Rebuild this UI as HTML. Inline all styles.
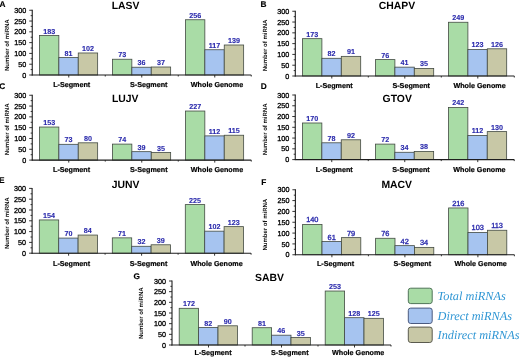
<!DOCTYPE html>
<html><head><meta charset="utf-8"><style>
html,body{margin:0;padding:0;background:#fff;}
body{width:520px;height:359px;overflow:hidden;}
svg{display:block;will-change:transform;filter:blur(0.25px);}
text{font-family:"Liberation Sans",sans-serif;text-rendering:geometricPrecision;}
.v{font-size:7.2px;font-weight:bold;fill:#2a2aac;stroke:#2a2aac;stroke-width:0.1px;text-anchor:middle;}
.vr{font-weight:normal;font-size:7.4px;stroke-width:0.35px;}
.yt{font-size:7.2px;fill:#000;stroke:#000;stroke-width:0.3px;text-anchor:end;}
.xl{font-size:7.2px;font-weight:bold;fill:#000;stroke:#000;stroke-width:0.2px;text-anchor:middle;}
.yl{font-size:6px;font-weight:bold;fill:#111;text-anchor:middle;}
.tt{font-size:10.4px;font-weight:bold;fill:#000;text-anchor:middle;}
.pl{font-size:8.3px;font-weight:bold;fill:#000;stroke:#000;stroke-width:0.15px;}
.lg{font-family:"Liberation Serif",serif;font-style:italic;font-size:12.3px;fill:#2f96d4;}
.ax{stroke:#1e1e1e;stroke-width:1.1;}
.tk{stroke:#1e1e1e;stroke-width:0.9;}
</style></head><body>
<svg width="520" height="359" viewBox="0 0 520 359">
<rect width="520" height="359" fill="#fff"/>
<rect x="39.45" y="35.5" width="19.4" height="39.5" fill="#a9dca6" stroke="#424a42" stroke-width="0.8"/>
<text x="49.15" y="33.5" class="v">183</text>
<rect x="58.85" y="57.52" width="19.4" height="17.48" fill="#a6c4f0" stroke="#424a42" stroke-width="0.8"/>
<text x="68.55" y="55.52" class="v">81</text>
<rect x="78.25" y="52.98" width="19.4" height="22.02" fill="#c8c8a6" stroke="#424a42" stroke-width="0.8"/>
<text x="87.95" y="50.98" class="v">102</text>
<rect x="112.45" y="59.24" width="19.4" height="15.76" fill="#a9dca6" stroke="#424a42" stroke-width="0.8"/>
<text x="122.15" y="57.24" class="v">73</text>
<rect x="131.85" y="67.23" width="19.4" height="7.77" fill="#a6c4f0" stroke="#424a42" stroke-width="0.8"/>
<text x="141.55" y="65.23" class="v">36</text>
<rect x="151.25" y="67.01" width="19.4" height="7.99" fill="#c8c8a6" stroke="#424a42" stroke-width="0.8"/>
<text x="160.95" y="65.01" class="v">37</text>
<rect x="185.45" y="19.75" width="19.4" height="55.25" fill="#a9dca6" stroke="#424a42" stroke-width="0.8"/>
<text x="195.15" y="17.75" class="v">256</text>
<rect x="204.85" y="49.75" width="19.4" height="25.25" fill="#a6c4f0" stroke="#424a42" stroke-width="0.8"/>
<text x="214.55" y="47.75" class="v">117</text>
<rect x="224.25" y="45" width="19.4" height="30" fill="#c8c8a6" stroke="#424a42" stroke-width="0.8"/>
<text x="233.95" y="43" class="v">139</text>
<line x1="32.25" y1="9.85" x2="32.25" y2="75.5" class="ax"/>
<line x1="31.75" y1="75" x2="251.25" y2="75" class="ax"/>
<line x1="29.25" y1="75" x2="32.25" y2="75" class="tk"/>
<text x="26.25" y="77.6" class="yt">0</text>
<line x1="30.65" y1="69.6" x2="32.25" y2="69.6" class="tk"/>
<line x1="29.25" y1="64.21" x2="32.25" y2="64.21" class="tk"/>
<text x="26.25" y="66.81" class="yt">50</text>
<line x1="30.65" y1="58.81" x2="32.25" y2="58.81" class="tk"/>
<line x1="29.25" y1="53.42" x2="32.25" y2="53.42" class="tk"/>
<text x="26.25" y="56.02" class="yt">100</text>
<line x1="30.65" y1="48.02" x2="32.25" y2="48.02" class="tk"/>
<line x1="29.25" y1="42.62" x2="32.25" y2="42.62" class="tk"/>
<text x="26.25" y="45.23" class="yt">150</text>
<line x1="30.65" y1="37.23" x2="32.25" y2="37.23" class="tk"/>
<line x1="29.25" y1="31.83" x2="32.25" y2="31.83" class="tk"/>
<text x="26.25" y="34.43" class="yt">200</text>
<line x1="30.65" y1="26.44" x2="32.25" y2="26.44" class="tk"/>
<line x1="29.25" y1="21.04" x2="32.25" y2="21.04" class="tk"/>
<text x="26.25" y="23.64" class="yt">250</text>
<line x1="30.65" y1="15.65" x2="32.25" y2="15.65" class="tk"/>
<line x1="29.25" y1="10.25" x2="32.25" y2="10.25" class="tk"/>
<text x="26.25" y="12.85" class="yt">300</text>
<line x1="68.75" y1="75" x2="68.75" y2="77.5" class="tk"/>
<line x1="105.25" y1="75" x2="105.25" y2="76.5" class="tk"/>
<line x1="141.75" y1="75" x2="141.75" y2="77.5" class="tk"/>
<line x1="178.25" y1="75" x2="178.25" y2="76.5" class="tk"/>
<line x1="214.75" y1="75" x2="214.75" y2="77.5" class="tk"/>
<line x1="251.25" y1="75" x2="251.25" y2="76.5" class="tk"/>
<text x="71.7" y="87" class="xl">L-Segment</text>
<text x="148.75" y="87" class="xl">S-Segment</text>
<text x="217" y="87" class="xl">Whole Genome</text>
<text transform="translate(8.9 45.15) rotate(-90)" class="yl">Number of miRNA</text>
<text x="125.5" y="8.9" class="tt">LASV</text>
<text x="-0.4" y="6.6" class="pl">A</text>
<rect x="302.5" y="38.66" width="19.4" height="37.34" fill="#a9dca6" stroke="#424a42" stroke-width="0.8"/>
<text x="312.2" y="36.66" class="v">173</text>
<rect x="321.9" y="58.3" width="19.4" height="17.7" fill="#a6c4f0" stroke="#424a42" stroke-width="0.8"/>
<text x="331.6" y="56.3" class="v">82</text>
<rect x="341.3" y="56.36" width="19.4" height="19.64" fill="#c8c8a6" stroke="#424a42" stroke-width="0.8"/>
<text x="351" y="54.36" class="v">91</text>
<rect x="375.5" y="59.6" width="19.4" height="16.4" fill="#a9dca6" stroke="#424a42" stroke-width="0.8"/>
<text x="385.2" y="57.6" class="v">76</text>
<rect x="394.9" y="67.15" width="19.4" height="8.85" fill="#a6c4f0" stroke="#424a42" stroke-width="0.8"/>
<text x="404.6" y="65.15" class="v">41</text>
<rect x="414.3" y="68.45" width="19.4" height="7.55" fill="#c8c8a6" stroke="#424a42" stroke-width="0.8"/>
<text x="424" y="66.45" class="v">35</text>
<rect x="448.5" y="22.26" width="19.4" height="53.74" fill="#a9dca6" stroke="#424a42" stroke-width="0.8"/>
<text x="458.2" y="20.26" class="v">249</text>
<rect x="467.9" y="49.45" width="19.4" height="26.55" fill="#a6c4f0" stroke="#424a42" stroke-width="0.8"/>
<text x="477.6" y="47.45" class="v">123</text>
<rect x="487.3" y="48.8" width="19.4" height="27.2" fill="#c8c8a6" stroke="#424a42" stroke-width="0.8"/>
<text x="497" y="46.8" class="v">126</text>
<line x1="295.3" y1="10.85" x2="295.3" y2="76.5" class="ax"/>
<line x1="294.8" y1="76" x2="514.3" y2="76" class="ax"/>
<line x1="292.3" y1="76" x2="295.3" y2="76" class="tk"/>
<text x="289.3" y="78.6" class="yt">0</text>
<line x1="293.7" y1="70.6" x2="295.3" y2="70.6" class="tk"/>
<line x1="292.3" y1="65.21" x2="295.3" y2="65.21" class="tk"/>
<text x="289.3" y="67.81" class="yt">50</text>
<line x1="293.7" y1="59.81" x2="295.3" y2="59.81" class="tk"/>
<line x1="292.3" y1="54.42" x2="295.3" y2="54.42" class="tk"/>
<text x="289.3" y="57.02" class="yt">100</text>
<line x1="293.7" y1="49.02" x2="295.3" y2="49.02" class="tk"/>
<line x1="292.3" y1="43.62" x2="295.3" y2="43.62" class="tk"/>
<text x="289.3" y="46.23" class="yt">150</text>
<line x1="293.7" y1="38.23" x2="295.3" y2="38.23" class="tk"/>
<line x1="292.3" y1="32.83" x2="295.3" y2="32.83" class="tk"/>
<text x="289.3" y="35.43" class="yt">200</text>
<line x1="293.7" y1="27.44" x2="295.3" y2="27.44" class="tk"/>
<line x1="292.3" y1="22.04" x2="295.3" y2="22.04" class="tk"/>
<text x="289.3" y="24.64" class="yt">250</text>
<line x1="293.7" y1="16.65" x2="295.3" y2="16.65" class="tk"/>
<line x1="292.3" y1="11.25" x2="295.3" y2="11.25" class="tk"/>
<text x="289.3" y="13.85" class="yt">300</text>
<line x1="331.8" y1="76" x2="331.8" y2="78.5" class="tk"/>
<line x1="368.3" y1="76" x2="368.3" y2="77.5" class="tk"/>
<line x1="404.8" y1="76" x2="404.8" y2="78.5" class="tk"/>
<line x1="441.3" y1="76" x2="441.3" y2="77.5" class="tk"/>
<line x1="477.8" y1="76" x2="477.8" y2="78.5" class="tk"/>
<line x1="514.3" y1="76" x2="514.3" y2="77.5" class="tk"/>
<text x="334.2" y="88" class="xl">L-Segment</text>
<text x="411.2" y="88" class="xl">S-Segment</text>
<text x="479.6" y="88" class="xl">Whole Genome</text>
<text transform="translate(266.9 45.45) rotate(-90)" class="yl">Number of miRNA</text>
<text x="397" y="8.9" class="tt">CHAPV</text>
<text x="260.4" y="6.7" class="pl">B</text>
<rect x="39.45" y="127.03" width="19.4" height="33.07" fill="#a9dca6" stroke="#424a42" stroke-width="0.8"/>
<text x="49.15" y="125.03" class="v">153</text>
<rect x="58.85" y="144.32" width="19.4" height="15.78" fill="#a6c4f0" stroke="#424a42" stroke-width="0.8"/>
<text x="68.55" y="142.32" class="v">73</text>
<rect x="78.25" y="142.81" width="19.4" height="17.29" fill="#c8c8a6" stroke="#424a42" stroke-width="0.8"/>
<text x="87.95" y="140.81" class="v">80</text>
<rect x="112.45" y="144.1" width="19.4" height="16" fill="#a9dca6" stroke="#424a42" stroke-width="0.8"/>
<text x="122.15" y="142.1" class="v">74</text>
<rect x="131.85" y="151.67" width="19.4" height="8.43" fill="#a6c4f0" stroke="#424a42" stroke-width="0.8"/>
<text x="141.55" y="149.67" class="v">39</text>
<rect x="151.25" y="152.53" width="19.4" height="7.57" fill="#c8c8a6" stroke="#424a42" stroke-width="0.8"/>
<text x="160.95" y="150.53" class="v">35</text>
<rect x="185.45" y="111.03" width="19.4" height="49.07" fill="#a9dca6" stroke="#424a42" stroke-width="0.8"/>
<text x="195.15" y="109.03" class="v">227</text>
<rect x="204.85" y="135.89" width="19.4" height="24.21" fill="#a6c4f0" stroke="#424a42" stroke-width="0.8"/>
<text x="214.55" y="133.89" class="v">112</text>
<rect x="224.25" y="135.24" width="19.4" height="24.86" fill="#c8c8a6" stroke="#424a42" stroke-width="0.8"/>
<text x="233.95" y="133.24" class="v">115</text>
<line x1="32.25" y1="94.85" x2="32.25" y2="160.6" class="ax"/>
<line x1="31.75" y1="160.1" x2="251.25" y2="160.1" class="ax"/>
<line x1="29.25" y1="160.1" x2="32.25" y2="160.1" class="tk"/>
<text x="26.25" y="162.7" class="yt">0</text>
<line x1="30.65" y1="154.7" x2="32.25" y2="154.7" class="tk"/>
<line x1="29.25" y1="149.29" x2="32.25" y2="149.29" class="tk"/>
<text x="26.25" y="151.89" class="yt">50</text>
<line x1="30.65" y1="143.89" x2="32.25" y2="143.89" class="tk"/>
<line x1="29.25" y1="138.48" x2="32.25" y2="138.48" class="tk"/>
<text x="26.25" y="141.08" class="yt">100</text>
<line x1="30.65" y1="133.08" x2="32.25" y2="133.08" class="tk"/>
<line x1="29.25" y1="127.67" x2="32.25" y2="127.67" class="tk"/>
<text x="26.25" y="130.28" class="yt">150</text>
<line x1="30.65" y1="122.27" x2="32.25" y2="122.27" class="tk"/>
<line x1="29.25" y1="116.87" x2="32.25" y2="116.87" class="tk"/>
<text x="26.25" y="119.47" class="yt">200</text>
<line x1="30.65" y1="111.46" x2="32.25" y2="111.46" class="tk"/>
<line x1="29.25" y1="106.06" x2="32.25" y2="106.06" class="tk"/>
<text x="26.25" y="108.66" class="yt">250</text>
<line x1="30.65" y1="100.65" x2="32.25" y2="100.65" class="tk"/>
<line x1="29.25" y1="95.25" x2="32.25" y2="95.25" class="tk"/>
<text x="26.25" y="97.85" class="yt">300</text>
<line x1="68.75" y1="160.1" x2="68.75" y2="162.6" class="tk"/>
<line x1="105.25" y1="160.1" x2="105.25" y2="161.6" class="tk"/>
<line x1="141.75" y1="160.1" x2="141.75" y2="162.6" class="tk"/>
<line x1="178.25" y1="160.1" x2="178.25" y2="161.6" class="tk"/>
<line x1="214.75" y1="160.1" x2="214.75" y2="162.6" class="tk"/>
<line x1="251.25" y1="160.1" x2="251.25" y2="161.6" class="tk"/>
<text x="71.6" y="172.2" class="xl">L-Segment</text>
<text x="148.8" y="172.2" class="xl">S-Segment</text>
<text x="217" y="172.2" class="xl">Whole Genome</text>
<text transform="translate(8.9 129.35) rotate(-90)" class="yl">Number of miRNA</text>
<text x="125.25" y="101.5" class="tt">LUJV</text>
<text x="-0.7" y="89" class="pl">C</text>
<rect x="302.45" y="122.99" width="19.4" height="36.61" fill="#a9dca6" stroke="#424a42" stroke-width="0.8"/>
<text x="312.15" y="120.99" class="v">170</text>
<rect x="321.85" y="142.8" width="19.4" height="16.8" fill="#a6c4f0" stroke="#424a42" stroke-width="0.8"/>
<text x="331.55" y="140.8" class="v">78</text>
<rect x="341.25" y="139.79" width="19.4" height="19.81" fill="#c8c8a6" stroke="#424a42" stroke-width="0.8"/>
<text x="350.95" y="137.79" class="v">92</text>
<rect x="375.45" y="144.1" width="19.4" height="15.5" fill="#a9dca6" stroke="#424a42" stroke-width="0.8"/>
<text x="385.15" y="142.1" class="v">72</text>
<rect x="394.85" y="152.28" width="19.4" height="7.32" fill="#a6c4f0" stroke="#424a42" stroke-width="0.8"/>
<text x="404.55" y="150.28" class="v">34</text>
<rect x="414.25" y="151.42" width="19.4" height="8.18" fill="#c8c8a6" stroke="#424a42" stroke-width="0.8"/>
<text x="423.95" y="149.42" class="v">38</text>
<rect x="448.45" y="107.49" width="19.4" height="52.11" fill="#a9dca6" stroke="#424a42" stroke-width="0.8"/>
<text x="458.15" y="105.49" class="v">242</text>
<rect x="467.85" y="135.48" width="19.4" height="24.12" fill="#a6c4f0" stroke="#424a42" stroke-width="0.8"/>
<text x="477.55" y="133.48" class="v">112</text>
<rect x="487.25" y="131.61" width="19.4" height="27.99" fill="#c8c8a6" stroke="#424a42" stroke-width="0.8"/>
<text x="496.95" y="129.61" class="v">130</text>
<line x1="295.25" y1="94.6" x2="295.25" y2="160.1" class="ax"/>
<line x1="294.75" y1="159.6" x2="514.25" y2="159.6" class="ax"/>
<line x1="292.25" y1="159.6" x2="295.25" y2="159.6" class="tk"/>
<text x="289.25" y="162.2" class="yt">0</text>
<line x1="293.65" y1="154.22" x2="295.25" y2="154.22" class="tk"/>
<line x1="292.25" y1="148.83" x2="295.25" y2="148.83" class="tk"/>
<text x="289.25" y="151.43" class="yt">50</text>
<line x1="293.65" y1="143.45" x2="295.25" y2="143.45" class="tk"/>
<line x1="292.25" y1="138.07" x2="295.25" y2="138.07" class="tk"/>
<text x="289.25" y="140.67" class="yt">100</text>
<line x1="293.65" y1="132.68" x2="295.25" y2="132.68" class="tk"/>
<line x1="292.25" y1="127.3" x2="295.25" y2="127.3" class="tk"/>
<text x="289.25" y="129.9" class="yt">150</text>
<line x1="293.65" y1="121.92" x2="295.25" y2="121.92" class="tk"/>
<line x1="292.25" y1="116.53" x2="295.25" y2="116.53" class="tk"/>
<text x="289.25" y="119.13" class="yt">200</text>
<line x1="293.65" y1="111.15" x2="295.25" y2="111.15" class="tk"/>
<line x1="292.25" y1="105.77" x2="295.25" y2="105.77" class="tk"/>
<text x="289.25" y="108.37" class="yt">250</text>
<line x1="293.65" y1="100.38" x2="295.25" y2="100.38" class="tk"/>
<line x1="292.25" y1="95" x2="295.25" y2="95" class="tk"/>
<text x="289.25" y="97.6" class="yt">300</text>
<line x1="331.75" y1="159.6" x2="331.75" y2="162.1" class="tk"/>
<line x1="368.25" y1="159.6" x2="368.25" y2="161.1" class="tk"/>
<line x1="404.75" y1="159.6" x2="404.75" y2="162.1" class="tk"/>
<line x1="441.25" y1="159.6" x2="441.25" y2="161.1" class="tk"/>
<line x1="477.75" y1="159.6" x2="477.75" y2="162.1" class="tk"/>
<line x1="514.25" y1="159.6" x2="514.25" y2="161.1" class="tk"/>
<text x="334.2" y="171.5" class="xl">L-Segment</text>
<text x="411" y="171.5" class="xl">S-Segment</text>
<text x="479.4" y="171.5" class="xl">Whole Genome</text>
<text transform="translate(266.9 129.35) rotate(-90)" class="yl">Number of miRNA</text>
<text x="397.25" y="101.5" class="tt">GTOV</text>
<text x="260.65" y="89.3" class="pl">D</text>
<rect x="39.3" y="219.94" width="19.4" height="33.26" fill="#a9dca6" stroke="#424a42" stroke-width="0.8"/>
<text x="49" y="217.94" class="v">154</text>
<rect x="58.7" y="238.08" width="19.4" height="15.12" fill="#a6c4f0" stroke="#424a42" stroke-width="0.8"/>
<text x="68.4" y="236.08" class="v">70</text>
<rect x="78.1" y="235.06" width="19.4" height="18.14" fill="#c8c8a6" stroke="#424a42" stroke-width="0.8"/>
<text x="87.8" y="233.06" class="v">84</text>
<rect x="112.3" y="237.86" width="19.4" height="15.34" fill="#a9dca6" stroke="#424a42" stroke-width="0.8"/>
<text x="122" y="235.86" class="v">71</text>
<rect x="131.7" y="246.29" width="19.4" height="6.91" fill="#a6c4f0" stroke="#424a42" stroke-width="0.8"/>
<text x="141.4" y="244.29" class="v">32</text>
<rect x="151.1" y="244.78" width="19.4" height="8.42" fill="#c8c8a6" stroke="#424a42" stroke-width="0.8"/>
<text x="160.8" y="242.78" class="v">39</text>
<rect x="185.3" y="204.6" width="19.4" height="48.6" fill="#a9dca6" stroke="#424a42" stroke-width="0.8"/>
<text x="195" y="202.6" class="v">225</text>
<rect x="204.7" y="231.17" width="19.4" height="22.03" fill="#a6c4f0" stroke="#424a42" stroke-width="0.8"/>
<text x="214.4" y="229.17" class="v">102</text>
<rect x="224.1" y="226.63" width="19.4" height="26.57" fill="#c8c8a6" stroke="#424a42" stroke-width="0.8"/>
<text x="233.8" y="224.63" class="v">123</text>
<line x1="32.1" y1="188" x2="32.1" y2="253.7" class="ax"/>
<line x1="31.6" y1="253.2" x2="251.1" y2="253.2" class="ax"/>
<line x1="29.1" y1="253.2" x2="32.1" y2="253.2" class="tk"/>
<text x="26.1" y="255.8" class="yt">0</text>
<line x1="30.5" y1="247.8" x2="32.1" y2="247.8" class="tk"/>
<line x1="29.1" y1="242.4" x2="32.1" y2="242.4" class="tk"/>
<text x="26.1" y="245" class="yt">50</text>
<line x1="30.5" y1="237" x2="32.1" y2="237" class="tk"/>
<line x1="29.1" y1="231.6" x2="32.1" y2="231.6" class="tk"/>
<text x="26.1" y="234.2" class="yt">100</text>
<line x1="30.5" y1="226.2" x2="32.1" y2="226.2" class="tk"/>
<line x1="29.1" y1="220.8" x2="32.1" y2="220.8" class="tk"/>
<text x="26.1" y="223.4" class="yt">150</text>
<line x1="30.5" y1="215.4" x2="32.1" y2="215.4" class="tk"/>
<line x1="29.1" y1="210" x2="32.1" y2="210" class="tk"/>
<text x="26.1" y="212.6" class="yt">200</text>
<line x1="30.5" y1="204.6" x2="32.1" y2="204.6" class="tk"/>
<line x1="29.1" y1="199.2" x2="32.1" y2="199.2" class="tk"/>
<text x="26.1" y="201.8" class="yt">250</text>
<line x1="30.5" y1="193.8" x2="32.1" y2="193.8" class="tk"/>
<line x1="29.1" y1="188.4" x2="32.1" y2="188.4" class="tk"/>
<text x="26.1" y="191" class="yt">300</text>
<line x1="68.6" y1="253.2" x2="68.6" y2="255.7" class="tk"/>
<line x1="105.1" y1="253.2" x2="105.1" y2="254.7" class="tk"/>
<line x1="141.6" y1="253.2" x2="141.6" y2="255.7" class="tk"/>
<line x1="178.1" y1="253.2" x2="178.1" y2="254.7" class="tk"/>
<line x1="214.6" y1="253.2" x2="214.6" y2="255.7" class="tk"/>
<line x1="251.1" y1="253.2" x2="251.1" y2="254.7" class="tk"/>
<text x="71.6" y="266" class="xl">L-Segment</text>
<text x="148.6" y="266" class="xl">S-Segment</text>
<text x="216.6" y="266" class="xl">Whole Genome</text>
<text transform="translate(8.9 223.15) rotate(-90)" class="yl">Number of miRNA</text>
<text x="125.5" y="188" class="tt">JUNV</text>
<text x="-0.9" y="182.6" class="pl">E</text>
<rect x="302.6" y="224.42" width="19.4" height="30.33" fill="#a9dca6" stroke="#424a42" stroke-width="0.8"/>
<text x="312.3" y="222.42" class="v vr">140</text>
<rect x="322" y="241.53" width="19.4" height="13.22" fill="#a6c4f0" stroke="#424a42" stroke-width="0.8"/>
<text x="331.7" y="239.53" class="v vr">61</text>
<rect x="341.4" y="237.63" width="19.4" height="17.12" fill="#c8c8a6" stroke="#424a42" stroke-width="0.8"/>
<text x="351.1" y="235.63" class="v vr">79</text>
<rect x="375.6" y="238.28" width="19.4" height="16.47" fill="#a9dca6" stroke="#424a42" stroke-width="0.8"/>
<text x="385.3" y="236.28" class="v vr">76</text>
<rect x="395" y="245.65" width="19.4" height="9.1" fill="#a6c4f0" stroke="#424a42" stroke-width="0.8"/>
<text x="404.7" y="243.65" class="v vr">42</text>
<rect x="414.4" y="247.38" width="19.4" height="7.37" fill="#c8c8a6" stroke="#424a42" stroke-width="0.8"/>
<text x="424.1" y="245.38" class="v vr">34</text>
<rect x="448.6" y="207.95" width="19.4" height="46.8" fill="#a9dca6" stroke="#424a42" stroke-width="0.8"/>
<text x="458.3" y="205.95" class="v vr">216</text>
<rect x="468" y="232.43" width="19.4" height="22.32" fill="#a6c4f0" stroke="#424a42" stroke-width="0.8"/>
<text x="477.7" y="230.43" class="v vr">103</text>
<rect x="487.4" y="230.27" width="19.4" height="24.48" fill="#c8c8a6" stroke="#424a42" stroke-width="0.8"/>
<text x="497.1" y="228.27" class="v vr">113</text>
<line x1="295.4" y1="189.35" x2="295.4" y2="255.25" class="ax"/>
<line x1="294.9" y1="254.75" x2="514.4" y2="254.75" class="ax"/>
<line x1="292.4" y1="254.75" x2="295.4" y2="254.75" class="tk"/>
<text x="289.4" y="257.35" class="yt">0</text>
<line x1="293.8" y1="249.33" x2="295.4" y2="249.33" class="tk"/>
<line x1="292.4" y1="243.92" x2="295.4" y2="243.92" class="tk"/>
<text x="289.4" y="246.52" class="yt">50</text>
<line x1="293.8" y1="238.5" x2="295.4" y2="238.5" class="tk"/>
<line x1="292.4" y1="233.08" x2="295.4" y2="233.08" class="tk"/>
<text x="289.4" y="235.68" class="yt">100</text>
<line x1="293.8" y1="227.67" x2="295.4" y2="227.67" class="tk"/>
<line x1="292.4" y1="222.25" x2="295.4" y2="222.25" class="tk"/>
<text x="289.4" y="224.85" class="yt">150</text>
<line x1="293.8" y1="216.83" x2="295.4" y2="216.83" class="tk"/>
<line x1="292.4" y1="211.42" x2="295.4" y2="211.42" class="tk"/>
<text x="289.4" y="214.02" class="yt">200</text>
<line x1="293.8" y1="206" x2="295.4" y2="206" class="tk"/>
<line x1="292.4" y1="200.58" x2="295.4" y2="200.58" class="tk"/>
<text x="289.4" y="203.18" class="yt">250</text>
<line x1="293.8" y1="195.17" x2="295.4" y2="195.17" class="tk"/>
<line x1="292.4" y1="189.75" x2="295.4" y2="189.75" class="tk"/>
<text x="289.4" y="192.35" class="yt">300</text>
<line x1="331.9" y1="254.75" x2="331.9" y2="257.25" class="tk"/>
<line x1="368.4" y1="254.75" x2="368.4" y2="256.25" class="tk"/>
<line x1="404.9" y1="254.75" x2="404.9" y2="257.25" class="tk"/>
<line x1="441.4" y1="254.75" x2="441.4" y2="256.25" class="tk"/>
<line x1="477.9" y1="254.75" x2="477.9" y2="257.25" class="tk"/>
<line x1="514.4" y1="254.75" x2="514.4" y2="256.25" class="tk"/>
<text x="335.5" y="265.8" class="xl">L-Segment</text>
<text x="412.3" y="265.8" class="xl">S-Segment</text>
<text x="480.7" y="265.8" class="xl">Whole Genome</text>
<text transform="translate(266.9 224.65) rotate(-90)" class="yl">Number of miRNA</text>
<text x="396.75" y="188" class="tt">MACV</text>
<text x="261.2" y="184.7" class="pl">F</text>
<rect x="179.2" y="308.31" width="19.4" height="36.69" fill="#a9dca6" stroke="#424a42" stroke-width="0.8"/>
<text x="188.9" y="306.31" class="v">172</text>
<rect x="198.6" y="327.51" width="19.4" height="17.49" fill="#a6c4f0" stroke="#424a42" stroke-width="0.8"/>
<text x="208.3" y="325.51" class="v">82</text>
<rect x="218" y="325.8" width="19.4" height="19.2" fill="#c8c8a6" stroke="#424a42" stroke-width="0.8"/>
<text x="227.7" y="323.8" class="v">90</text>
<rect x="252.2" y="327.72" width="19.4" height="17.28" fill="#a9dca6" stroke="#424a42" stroke-width="0.8"/>
<text x="261.9" y="325.72" class="v">81</text>
<rect x="271.6" y="335.19" width="19.4" height="9.81" fill="#a6c4f0" stroke="#424a42" stroke-width="0.8"/>
<text x="281.3" y="333.19" class="v">46</text>
<rect x="291" y="337.53" width="19.4" height="7.47" fill="#c8c8a6" stroke="#424a42" stroke-width="0.8"/>
<text x="300.7" y="335.53" class="v">35</text>
<rect x="325.2" y="291.03" width="19.4" height="53.97" fill="#a9dca6" stroke="#424a42" stroke-width="0.8"/>
<text x="334.9" y="289.03" class="v">253</text>
<rect x="344.6" y="317.69" width="19.4" height="27.31" fill="#a6c4f0" stroke="#424a42" stroke-width="0.8"/>
<text x="354.3" y="315.69" class="v">128</text>
<rect x="364" y="318.33" width="19.4" height="26.67" fill="#c8c8a6" stroke="#424a42" stroke-width="0.8"/>
<text x="373.7" y="316.33" class="v">125</text>
<line x1="172" y1="280.6" x2="172" y2="345.5" class="ax"/>
<line x1="171.5" y1="345" x2="391" y2="345" class="ax"/>
<line x1="169" y1="345" x2="172" y2="345" class="tk"/>
<text x="166" y="347.6" class="yt">0</text>
<line x1="170.4" y1="339.67" x2="172" y2="339.67" class="tk"/>
<line x1="169" y1="334.33" x2="172" y2="334.33" class="tk"/>
<text x="166" y="336.93" class="yt">50</text>
<line x1="170.4" y1="329" x2="172" y2="329" class="tk"/>
<line x1="169" y1="323.67" x2="172" y2="323.67" class="tk"/>
<text x="166" y="326.27" class="yt">100</text>
<line x1="170.4" y1="318.33" x2="172" y2="318.33" class="tk"/>
<line x1="169" y1="313" x2="172" y2="313" class="tk"/>
<text x="166" y="315.6" class="yt">150</text>
<line x1="170.4" y1="307.67" x2="172" y2="307.67" class="tk"/>
<line x1="169" y1="302.33" x2="172" y2="302.33" class="tk"/>
<text x="166" y="304.93" class="yt">200</text>
<line x1="170.4" y1="297" x2="172" y2="297" class="tk"/>
<line x1="169" y1="291.67" x2="172" y2="291.67" class="tk"/>
<text x="166" y="294.27" class="yt">250</text>
<line x1="170.4" y1="286.33" x2="172" y2="286.33" class="tk"/>
<line x1="169" y1="281" x2="172" y2="281" class="tk"/>
<text x="166" y="283.6" class="yt">300</text>
<line x1="208.5" y1="345" x2="208.5" y2="347.5" class="tk"/>
<line x1="245" y1="345" x2="245" y2="346.5" class="tk"/>
<line x1="281.5" y1="345" x2="281.5" y2="347.5" class="tk"/>
<line x1="318" y1="345" x2="318" y2="346.5" class="tk"/>
<line x1="354.5" y1="345" x2="354.5" y2="347.5" class="tk"/>
<line x1="391" y1="345" x2="391" y2="346.5" class="tk"/>
<text x="213.1" y="354.5" class="xl">L-Segment</text>
<text x="289.85" y="354.5" class="xl">S-Segment</text>
<text x="358.15" y="354.5" class="xl">Whole Genome</text>
<text transform="translate(143.1 313.25) rotate(-90)" class="yl">Number of miRNA</text>
<text x="269.5" y="281" class="tt">SABV</text>
<text x="133.4" y="278.8" class="pl">G</text>
<rect x="408.3" y="288.2" width="23.9" height="15.4" rx="2.4" ry="2.4" fill="#a9dca6" stroke="#4f7458" stroke-width="1"/>
<text x="437.6" y="300.4" class="lg">Total miRNAs</text>
<rect x="408.3" y="308.1" width="23.9" height="15.4" rx="2.4" ry="2.4" fill="#a6c4f0" stroke="#4a5a80" stroke-width="1"/>
<text x="437.6" y="320.3" class="lg">Direct miRNAs</text>
<rect x="408.3" y="327.1" width="23.9" height="15.4" rx="2.4" ry="2.4" fill="#c8c8a6" stroke="#5a5a4e" stroke-width="1"/>
<text x="437.6" y="339.3" class="lg">Indirect miRNAs</text>
</svg>
</body></html>
